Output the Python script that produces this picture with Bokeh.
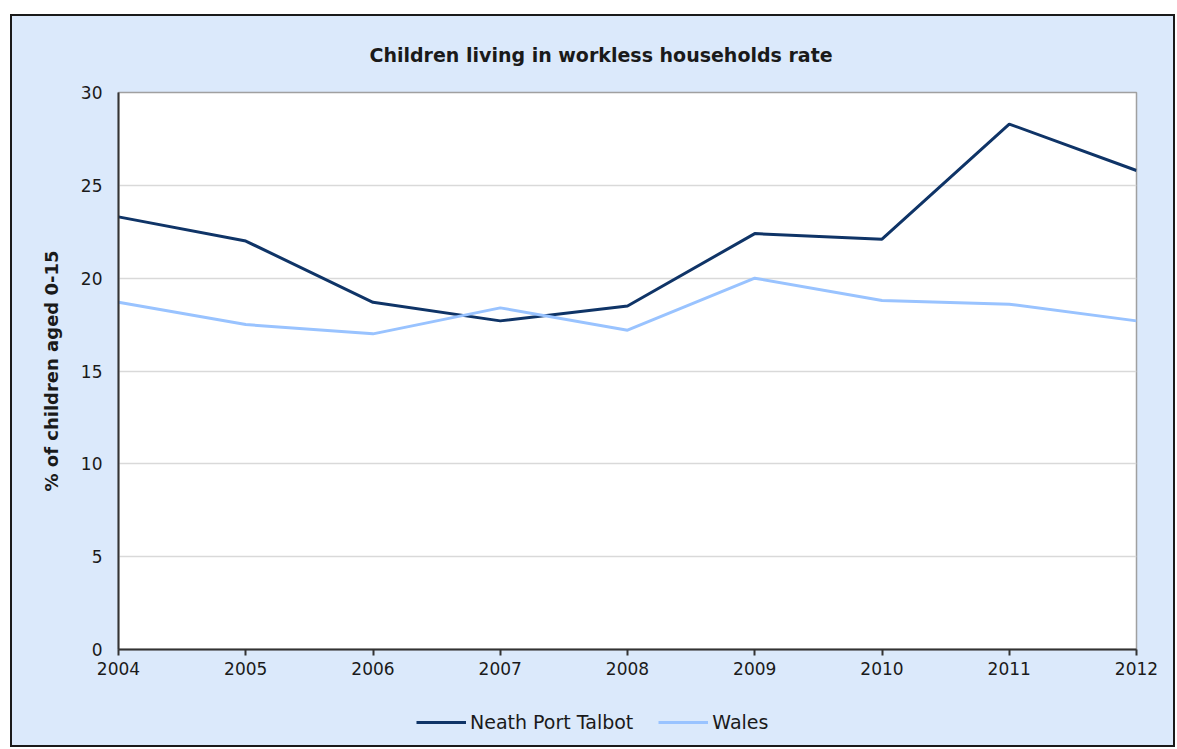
from bokeh.plotting import figure
from bokeh.layouts import column
from bokeh.models import Legend, LegendItem, FixedTicker, Range1d, Title
from bokeh.embed import file_html
from bokeh.resources import INLINE

years = [2004, 2005, 2006, 2007, 2008, 2009, 2010, 2011, 2012]
npt = [23.3, 22.0, 18.7, 17.7, 18.5, 22.4, 22.1, 28.3, 25.8]
wales = [18.7, 17.5, 17.0, 18.4, 17.2, 20.0, 18.8, 18.6, 17.7]
y_ticks = [0, 5, 10, 15, 20, 25, 30]
title_text = "Children living in workless households rate"
series_names = ["Neath Port Talbot", "Wales"]

BG = "#DBE9FB"
FONT = "DejaVu Sans"
TXT = "#1a1a1a"
C_NPT = "#0F3467"
C_WAL = "#99C3FF"

W = 1161
p = figure(width=W, height=669, output_backend="svg", toolbar_location=None,
           x_range=Range1d(2004, 2012), y_range=Range1d(0, 30),
           min_border_left=106, min_border_right=37, min_border_top=76, min_border_bottom=36,
           border_fill_color=BG, background_fill_color="white")

p.title.visible = False
t = Title(text=title_text, align="left", offset=251, standoff=50, vertical_align="top",
          text_font=FONT, text_font_size="19px", text_font_style="bold", text_color=TXT)
p.add_layout(t, "above")

p.outline_line_color = "#A0A0A0"
p.outline_line_width = 1.5

p.line(years, npt, line_color=C_NPT, line_width=3)
p.line(years, wales, line_color=C_WAL, line_width=3)

p.xaxis.ticker = FixedTicker(ticks=years)
p.yaxis.ticker = FixedTicker(ticks=y_ticks)
p.xgrid.visible = False
p.ygrid.grid_line_color = "#D9D9D9"
p.ygrid.grid_line_width = 1.5

for ax in (p.xaxis[0], p.yaxis[0]):
    ax.axis_line_color = "#333333"
    ax.axis_line_width = 2
    ax.major_label_text_font = FONT
    ax.major_label_text_font_size = "17px"
    ax.major_label_text_color = TXT
    ax.minor_tick_line_color = None
    ax.major_tick_line_color = "#333333"
    ax.major_tick_line_width = 2

p.xaxis.major_tick_out = 6
p.xaxis.major_tick_in = 0
p.xaxis.major_label_standoff = 6
p.yaxis.major_tick_out = 0
p.yaxis.major_tick_in = 0
p.yaxis.major_label_standoff = 16

p.yaxis.axis_label = "% of children aged 0-15"
p.yaxis.axis_label_text_font = FONT
p.yaxis.axis_label_text_font_size = "18px"
p.yaxis.axis_label_text_font_style = "bold"
p.yaxis.axis_label_text_color = TXT
p.yaxis.axis_label_standoff = 16

# legend strip (series drawn off-range so only the legend shows)
p2 = figure(width=W, height=60, output_backend="svg", toolbar_location=None,
            x_range=Range1d(0, 1), y_range=Range1d(0, 1),
            min_border=0, border_fill_color=BG, background_fill_color=BG)
p2.axis.visible = False
p2.grid.visible = False
p2.outline_line_color = None
r1 = p2.line(years, npt, line_color=C_NPT, line_width=3)
r2 = p2.line(years, wales, line_color=C_WAL, line_width=3)
legend = Legend(items=[LegendItem(label=series_names[0], renderers=[r1]),
                       LegendItem(label=series_names[1], renderers=[r2])],
                orientation="horizontal", location=(298, 12),
                background_fill_alpha=0, border_line_color=None,
                label_text_font=FONT, label_text_font_size="19px", label_text_color=TXT,
                glyph_width=50, glyph_height=20, spacing=25, label_standoff=4, margin=0, padding=0)
p2.add_layout(legend)

layout = column(p, p2, spacing=0, background=BG,
                styles={"border": "2px solid #1a1a1a", "margin-left": "10px", "margin-top": "14px",
                        "background-color": BG})

open("out.html", "w").write(file_html(layout, INLINE))
